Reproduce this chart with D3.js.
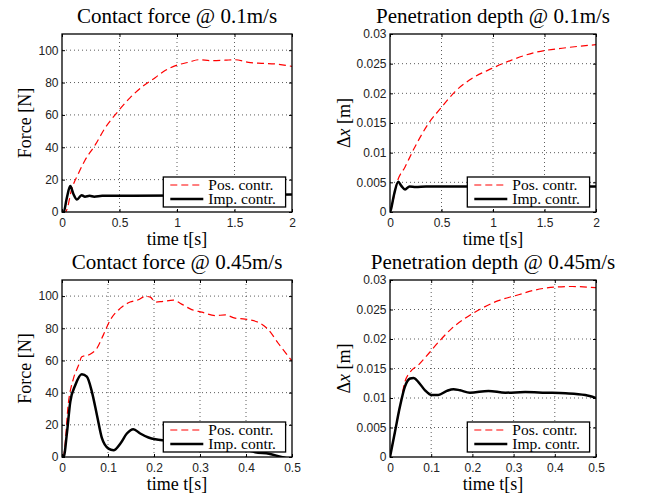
<!DOCTYPE html>
<html>
<head>
<meta charset="utf-8">
<script src="https://cdn.jsdelivr.net/npm/d3@7/dist/d3.min.js"></script>
<style>
  body { margin: 0; background: #fff; }
  .tick text { font-family: "Liberation Sans", Arial, sans-serif; font-size: 12px; fill: #222; }
  .grid line { stroke: #333; stroke-width: 0.8; stroke-dasharray: 1,3; }
</style>
</head>
<body>
<div id="chart"></div>
<script>
// time ticks
const ticksT2 = [0, 0.5, 1, 1.5, 2]
const ticksT05 = [0, 0.1, 0.2, 0.3, 0.4, 0.5]
const ticksForce = [0, 20, 40, 60, 80, 100]
const ticksDepth = [0, 0.005, 0.01, 0.015, 0.02, 0.025, 0.03]

// contact force @ 0.1 m/s
const tPosF1 = [0, 0.03, 0.045, 0.08, 0.144, 0.2, 0.29, 0.375, 0.477, 0.593, 0.708, 0.81, 0.88, 1.0, 1.1, 1.186, 1.3, 1.418, 1.504, 1.62, 1.736, 1.85, 2.0]
const posF1 = [0, 0, 2, 13, 24, 32, 41.6, 52, 61.3, 70.7, 78, 83, 86.7, 90.8, 92.5, 94.1, 93.5, 93.8, 94.1, 92.5, 91.9, 91.5, 90]
const tImpF1 = [0, 0.015, 0.04, 0.072, 0.1, 0.13, 0.17, 0.2, 0.24, 0.28, 0.35, 0.5, 1.0, 1.5, 2.0]
const impF1 = [0, 0, 8, 16, 11, 7.7, 10.4, 9.5, 10, 9.5, 10, 10, 10.2, 10.5, 10.8]

// penetration depth @ 0.1 m/s
const tPosD1 = [0, 0.016, 0.065, 0.146, 0.243, 0.373, 0.503, 0.632, 0.795, 0.99, 1.18, 1.41, 1.67, 2.0]
const posD1 = [0, 0.00085, 0.0048, 0.0076, 0.011, 0.0149, 0.0177, 0.0203, 0.0225, 0.0242, 0.0256, 0.0269, 0.0276, 0.0282]
const tImpD1 = [0, 0.01, 0.04, 0.08, 0.11, 0.146, 0.19, 0.25, 0.35, 0.5, 1.0, 1.5, 2.0]
const impD1 = [0, 0.0005, 0.003, 0.0051, 0.0044, 0.0038, 0.0043, 0.0042, 0.0043, 0.0043, 0.0043, 0.0043, 0.0043]

// contact force @ 0.45 m/s
const tPosF2 = [0, 0.0035, 0.014, 0.025, 0.036, 0.043, 0.061, 0.076, 0.09, 0.105, 0.127, 0.148, 0.166, 0.181, 0.192, 0.203, 0.217, 0.242, 0.26, 0.282, 0.304, 0.333, 0.355, 0.376, 0.398, 0.43, 0.449, 0.47, 0.5]
const posF2 = [0, 1, 34, 48.9, 57, 62.3, 63.8, 67.6, 75.9, 85.2, 92.5, 96.3, 97.7, 99.8, 99.4, 96.3, 96.6, 97.5, 95, 91.6, 90, 87.9, 88.3, 86.3, 85.7, 83.2, 79, 70.7, 59.7]
const tImpF2 = [0, 0.0035, 0.011, 0.018, 0.029, 0.043, 0.054, 0.065, 0.076, 0.087, 0.101, 0.112, 0.127, 0.141, 0.155, 0.17, 0.188, 0.203, 0.22, 0.25, 0.3, 0.35, 0.4, 0.42, 0.45, 0.477, 0.5]
const impF2 = [0, 0, 15.6, 34.3, 44.7, 51.4, 49.9, 40.5, 26, 11.5, 5.2, 4.2, 8.4, 14.6, 17.3, 14.6, 12.1, 11, 10.4, 10, 8.5, 7, 4.5, 3, 2, 0, -1.5]

// penetration depth @ 0.45 m/s
const tPosD2 = [0, 0.012, 0.024, 0.036, 0.049, 0.069, 0.097, 0.122, 0.15, 0.182, 0.223, 0.263, 0.312, 0.352, 0.401, 0.442, 0.5]
const posD2 = [0, 0.00425, 0.0085, 0.0127, 0.0144, 0.0156, 0.0178, 0.0198, 0.0218, 0.0235, 0.0252, 0.0265, 0.0275, 0.0283, 0.0288, 0.0289, 0.0287]
const tImpD2 = [0, 0.012, 0.024, 0.036, 0.049, 0.057, 0.069, 0.085, 0.101, 0.117, 0.138, 0.154, 0.17, 0.194, 0.239, 0.28, 0.328, 0.377, 0.426, 0.474, 0.5]
const impD2 = [0, 0.00425, 0.0085, 0.0119, 0.0133, 0.0134, 0.0127, 0.0113, 0.0105, 0.0105, 0.0112, 0.0115, 0.0113, 0.0109, 0.0112, 0.0109, 0.011, 0.0109, 0.0108, 0.0105, 0.0100]

const zip = (t, v) => t.map((d, i) => ({t: d, v: v[i]}))

const panels = [
    {x: 62, y: 34, w: 230, h: 178, title: "Contact force @ 0.1m/s", ylabel: "Force [N]", labelX: -31,
     xTicks: ticksT2, xMax: 2, yTicks: ticksForce, yMax: 110,
     pos: zip(tPosF1, posF1), imp: zip(tImpF1, impF1)},
    {x: 390, y: 34, w: 206, h: 178, title: "Penetration depth @ 0.1m/s", ylabel: "depth", labelX: -40,
     xTicks: ticksT2, xMax: 2, yTicks: ticksDepth, yMax: 0.03,
     pos: zip(tPosD1, posD1), imp: zip(tImpD1, impD1)},
    {x: 62, y: 280, w: 230, h: 177, title: "Contact force @ 0.45m/s", ylabel: "Force [N]", labelX: -31,
     xTicks: ticksT05, xMax: 0.5, yTicks: ticksForce, yMax: 110,
     pos: zip(tPosF2, posF2), imp: zip(tImpF2, impF2)},
    {x: 390, y: 280, w: 206, h: 177, title: "Penetration depth @ 0.45m/s", ylabel: "depth", labelX: -40,
     xTicks: ticksT05, xMax: 0.5, yTicks: ticksDepth, yMax: 0.03,
     pos: zip(tPosD2, posD2), imp: zip(tImpD2, impD2)},
]

const serif = '"Liberation Serif", "Times New Roman", serif'
const fmt = d => String(+d.toFixed(3))

const svg = d3.select("#chart").append("svg")
    .attr("width", 645)
    .attr("height", 499)

panels.forEach((p, i) => {
    const g = svg.append("g").attr("transform", `translate(${p.x},${p.y})`)

    const xScale = d3.scaleLinear().domain([0, p.xMax]).range([0, p.w])
    const yScale = d3.scaleLinear().domain([0, p.yMax]).range([p.h, 0])

    // grid
    g.append("g").attr("class", "grid")
        .selectAll("line").data(p.xTicks.slice(1, -1)).join("line")
        .attr("x1", d => xScale(d)).attr("x2", d => xScale(d))
        .attr("y1", 0).attr("y2", p.h)
    g.append("g").attr("class", "grid")
        .selectAll("line").data(p.yTicks.filter(d => d > 0 && d < p.yMax)).join("line")
        .attr("y1", d => yScale(d)).attr("y2", d => yScale(d))
        .attr("x1", 0).attr("x2", p.w)

    // lines
    const clipId = "clip" + i
    g.append("clipPath").attr("id", clipId)
        .append("rect").attr("width", p.w).attr("height", p.h)

    const line = d3.line()
        .x(d => xScale(d.t))
        .y(d => yScale(d.v))
        .curve(d3.curveMonotoneX)

    g.append("path")
        .attr("clip-path", `url(#${clipId})`)
        .attr("d", line(p.pos))
        .attr("fill", "none")
        .attr("stroke", "#ff0000")
        .attr("stroke-width", 1.2)
        .attr("stroke-dasharray", "7,4")
    g.append("path")
        .attr("clip-path", `url(#${clipId})`)
        .attr("d", line(p.imp))
        .attr("fill", "none")
        .attr("stroke", "#000")
        .attr("stroke-width", 2.5)

    // axes, ticks pointing inwards
    g.append("g")
        .attr("transform", `translate(0,${p.h})`)
        .call(d3.axisBottom(xScale).tickValues(p.xTicks).tickFormat(fmt).tickSize(-3).tickPadding(6))
    g.append("g")
        .call(d3.axisTop(xScale).tickValues(p.xTicks).tickFormat("").tickSize(-3))
    g.append("g")
        .call(d3.axisLeft(yScale).tickValues(p.yTicks).tickFormat(fmt).tickSize(-3).tickPadding(3.5))
    g.append("g")
        .attr("transform", `translate(${p.w},0)`)
        .call(d3.axisRight(yScale).tickValues(p.yTicks).tickFormat("").tickSize(-3))
    g.selectAll(".domain").remove()
    g.selectAll(".tick line").attr("stroke", "#000")

    g.append("rect")
        .attr("width", p.w).attr("height", p.h)
        .attr("fill", "none")
        .attr("stroke", "#000")
        .attr("stroke-width", 1.3)

    // title and labels
    g.append("text")
        .attr("x", p.w / 2).attr("y", -11)
        .attr("text-anchor", "middle")
        .style("font-family", serif).style("font-size", "21px")
        .text(p.title)
    g.append("text")
        .attr("x", p.w / 2).attr("y", p.h + 32.5)
        .attr("text-anchor", "middle")
        .style("font-family", serif).style("font-size", "18px")
        .text("time t[s]")

    const yl = g.append("text")
        .attr("transform", `translate(${p.labelX},${p.h / 2}) rotate(-90)`)
        .attr("text-anchor", "middle")
        .style("font-family", serif).style("font-size", "18px")
    if (p.ylabel == "depth") {
        yl.append("tspan").text("Δ")
        yl.append("tspan").style("font-style", "italic").text("x")
        yl.append("tspan").text(" [m]")
    } else {
        yl.text(p.ylabel)
    }

    // legend
    const lg = g.append("g")
        .attr("transform", `translate(${p.w - 128.7},${p.h - 35})`)
    lg.append("rect")
        .attr("width", 122.3).attr("height", 30)
        .attr("fill", "#fff")
        .attr("stroke", "#000")
        .attr("stroke-width", 1.3)
    const items = [
        {name: "Pos. contr.", color: "#ff0000", width: 1.2, dash: "7,4"},
        {name: "Imp. contr.", color: "#000", width: 2.5, dash: null},
    ]
    items.forEach((it, k) => {
        const yy = 8 + k * 14
        lg.append("line")
            .attr("x1", 7).attr("x2", 40)
            .attr("y1", yy).attr("y2", yy)
            .attr("stroke", it.color)
            .attr("stroke-width", it.width)
            .attr("stroke-dasharray", it.dash)
        lg.append("text")
            .attr("x", 45).attr("y", yy + 5)
            .style("font-family", serif).style("font-size", "15.5px")
            .text(it.name)
    })
})
</script>
</body>
</html>
